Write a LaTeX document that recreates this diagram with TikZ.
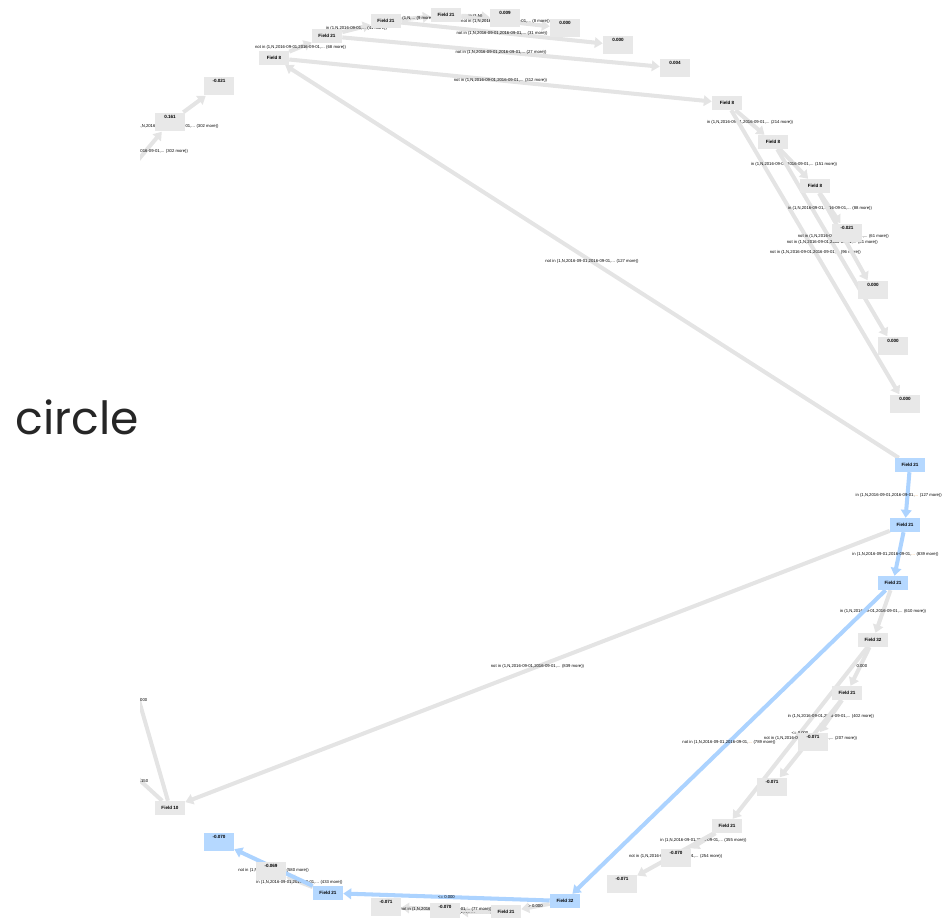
\documentclass[tikz,border=0pt]{standalone}
\usepackage{fontspec}
\setmainfont{Liberation Sans}
\newfontfamily\titlefont{Poppins}
\usetikzlibrary{arrows.meta, backgrounds}

\definecolor{boxgrey}{RGB}{232,232,232}
\definecolor{edgegrey}{RGB}{228,228,228}
\definecolor{boxblue}{RGB}{181,216,255}
\definecolor{edgeblue}{RGB}{172,211,255}
\definecolor{dotorange}{RGB}{232,140,40}

\begin{document}
\begin{tikzpicture}[x=0.02cm, y=-0.02cm,
    fieldbox/.style={rectangle, fill=boxgrey, minimum width=17pt, minimum height=7.8pt, inner sep=0pt, font=\fontsize{2.6}{3}\selectfont\bfseries},
    leafbox/.style={rectangle, fill=boxgrey, minimum width=17pt, inner xsep=0pt, inner ysep=1.2pt, text height=1.9pt, text depth=6.4pt, font=\fontsize{2.6}{3}\selectfont\bfseries},
    hot/.style={fill=boxblue},
    gedge/.style={draw=edgegrey, line width=2.3pt, -{Triangle[width=6pt,length=4.5pt]}},
    bedge/.style={draw=edgeblue, line width=2.3pt, -{Triangle[width=6pt,length=4.5pt]}},
    elabel/.style={font=\fontsize{2.4}{2.7}\selectfont, inner sep=0pt, text=black},
]

\useasboundingbox (0,0) rectangle (943,918);

\node[font=\titlefont\fontsize{26}{30}\selectfont, text=black!85, anchor=base west, inner sep=0pt] (title) at (15,435) {circle};

% blue path
\node[fieldbox, hot] (f21-root) at (910,465) {Field 21};
\node[fieldbox, hot] (f21-in1) at (905,525) {Field 21};
\node[fieldbox, hot] (f21-in2) at (893,583) {Field 21};
\node[fieldbox, hot] (f32-low) at (565,901) {Field 32};
\node[fieldbox, hot] (f21-low) at (328,893) {Field 21};
\node[leafbox, hot] (leaf-low) at (219,842) {-0.070};

% top
\node[fieldbox] (f8-top) at (274,58) {Field 8};
\node[fieldbox] (f21-top1) at (327,36) {Field 21};
\node[fieldbox] (f21-top2) at (386,21) {Field 21};
\node[fieldbox] (f21-top3) at (446,15) {Field 21};
\node[leafbox] (leaf-top1) at (505,18) {0.009};
\node[leafbox] (leaf-top2) at (565,28) {0.000};
\node[leafbox] (leaf-top3) at (618,45) {0.000};
\node[leafbox] (leaf-top4) at (675,68) {0.004};

% right
\node[fieldbox] (f8-r1) at (727,103) {Field 8};
\node[fieldbox] (f8-r2) at (773,142) {Field 8};
\node[fieldbox] (f8-r3) at (815,186) {Field 8};
\node[leafbox] (leaf-r1) at (847,233) {-0.021};
\node[leafbox] (leaf-r2) at (873,290) {0.000};
\node[leafbox] (leaf-r3) at (893,346) {0.000};
\node[leafbox] (leaf-r4) at (905,404) {0.000};

% top left
\node[leafbox] (leaf-tl1) at (170,122) {0.161};
\node[leafbox] (leaf-tl2) at (219,86) {-0.021};
\coordinate (tl-in) at (128,172);

% bottom left
\node[fieldbox] (f10-bl) at (170,808) {Field 10};
\coordinate (bl-out1) at (110,600);
\coordinate (bl-out2) at (120,762);

% bottom right
\node[fieldbox] (f32-br) at (873,640) {Field 32};
\node[fieldbox] (f21-br1) at (847,693) {Field 21};
\node[leafbox] (leaf-br1) at (813,742) {-0.071};
\node[leafbox] (leaf-br2) at (772,787) {-0.071};
\node[fieldbox] (f21-br2) at (727,826) {Field 21};
\node[leafbox] (leaf-br3) at (676,858) {-0.070};
\node[leafbox] (leaf-br4) at (622,884) {-0.071};

% bottom
\node[leafbox] (leaf-low2) at (271,871) {-0.069};
\node[fieldbox] (f21-bot) at (506,912) {Field 21};
\node[leafbox] (leaf-bot1) at (445,912) {-0.070};
\node[leafbox] (leaf-bot2) at (386,907) {-0.071};

\begin{pgfonlayer}{background}
\begin{scope}
\clip (140,0) rectangle (943,918);

% grey edges
\draw[gedge] (f21-root) -- node[elabel] {not in (1,N,2016-09-01,2016-09-01,... (127 more))} (f8-top);
\draw[gedge] (f8-top) -- node[elabel] {not in (1,N,2016-09-01,2016-09-01,... (68 more))} (f21-top1);
\draw[gedge] (f8-top) -- node[elabel] {not in (1,N,2016-09-01,2016-09-01,... (312 more))} (f8-r1);
\draw[gedge] (f21-top1) -- node[elabel] {in (1,N,2016-09-01,... (41 more))} (f21-top2);
\draw[gedge] (f21-top1) -- node[elabel] {not in (1,N,2016-09-01,2016-09-01,... (27 more))} (leaf-top4);
\draw[gedge] (f21-top2) -- node[elabel] {in (1,N,... (9 more))} (f21-top3);
\draw[gedge] (f21-top2) -- node[elabel] {not in (1,N,2016-09-01,2016-09-01,... (31 more))} (leaf-top3);
\draw[gedge] (f21-top3) -- node[elabel] {in (1,N)} (leaf-top1);
\draw[gedge] (f21-top3) -- node[elabel] {not in (1,N,2016-09-01,2016-09-01,... (8 more))} (leaf-top2);

\draw[gedge] (f8-r1) -- node[elabel] {in (1,N,2016-09-01,2016-09-01,... (214 more))} (f8-r2);
\draw[gedge] (f8-r1) -- node[elabel] {not in (1,N,2016-09-01,2016-09-01,... (96 more))} (leaf-r4);
\draw[gedge] (f8-r2) -- node[elabel] {in (1,N,2016-09-01,2016-09-01,... (151 more))} (f8-r3);
\draw[gedge] (f8-r2) -- node[elabel] {not in (1,N,2016-09-01,2016-09-01,... (61 more))} (leaf-r3);
\draw[gedge] (f8-r3) -- node[elabel] {in (1,N,2016-09-01,2016-09-01,... (88 more))} (leaf-r1);
\draw[gedge] (f8-r3) -- node[elabel] {not in (1,N,2016-09-01,2016-09-01,... (61 more))} (leaf-r2);

\draw[gedge] (tl-in) -- node[elabel] {in (1,N,2016-09-01,2016-09-01,... (302 more))} (leaf-tl1);
\draw[gedge] (leaf-tl1) -- (leaf-tl2);
\node[elabel] (tl-note) at (172,126) {not in (1,N,2016-09-01,2016-09-01,... (302 more))};

\draw[gedge] (f21-in1) -- node[elabel] {not in (1,N,2016-09-01,2016-09-01,... (839 more))} (f10-bl);
\draw[gedge] (f10-bl) -- node[elabel] {<= 1.000} (bl-out1);
\draw[gedge] (f10-bl) -- node[elabel] {> 0.150} (bl-out2);

\draw[gedge] (f21-in2) -- node[elabel] {in (1,N,2016-09-01,2016-09-01,... (610 more))} (f32-br);
\draw[gedge] (f32-br) -- node[elabel] {> 0.000} (f21-br1);
\draw[gedge] (f32-br) -- node[elabel] {<= 0.000} (f21-br2);
\draw[gedge] (f21-br1) -- node[elabel] {in (1,N,2016-09-01,2016-09-01,... (402 more))} (leaf-br1);
\draw[gedge] (f21-br1) -- node[elabel] {not in (1,N,2016-09-01,2016-09-01,... (207 more))} (leaf-br2);
\draw[gedge] (f21-br2) -- node[elabel] {in (1,N,2016-09-01,2016-09-01,... (355 more))} (leaf-br3);
\draw[gedge] (f21-br2) -- node[elabel, yshift=-1.4pt] {not in (1,N,2016-09-01,2016-09-01,... (254 more))} (leaf-br4);

\draw[gedge] (f32-low) -- node[elabel] {> 0.000} (f21-bot);
\draw[gedge] (f21-bot) -- node[elabel] {in (1,N,2016-09-01,...)} (leaf-bot1);
\draw[gedge] (f21-bot) -- node[elabel] {not in (1,N,2016-09-01,2016-09-01,... (77 more))} (leaf-bot2);
\draw[gedge] (f21-low) -- node[elabel] {in (1,N,2016-09-01,2016-09-01,... (433 more))} (leaf-low2);

% blue edges
\draw[bedge] (f21-root) -- node[elabel, xshift=-5pt] {in (1,N,2016-09-01,2016-09-01,\textcolor{dotorange}{...} (127 more))} (f21-in1);
\draw[bedge] (f21-in1) -- node[elabel, xshift=-2pt] {in (1,N,2016-09-01,2016-09-01,\textcolor{dotorange}{...} (839 more))} (f21-in2);
\draw[bedge] (f21-in2) -- node[elabel] {not in (1,N,2016-09-01,2016-09-01,\textcolor{dotorange}{...} (789 more))} (f32-low);
\draw[bedge] (f32-low) -- node[elabel] {<= 0.000} (f21-low);
\draw[bedge] (f21-low) -- node[elabel, yshift=-1.6pt] {not in (1,N,2016-09-01,\textcolor{dotorange}{...} (580 more))} (leaf-low);
\end{scope}
\end{pgfonlayer}

\end{tikzpicture}
\end{document}
